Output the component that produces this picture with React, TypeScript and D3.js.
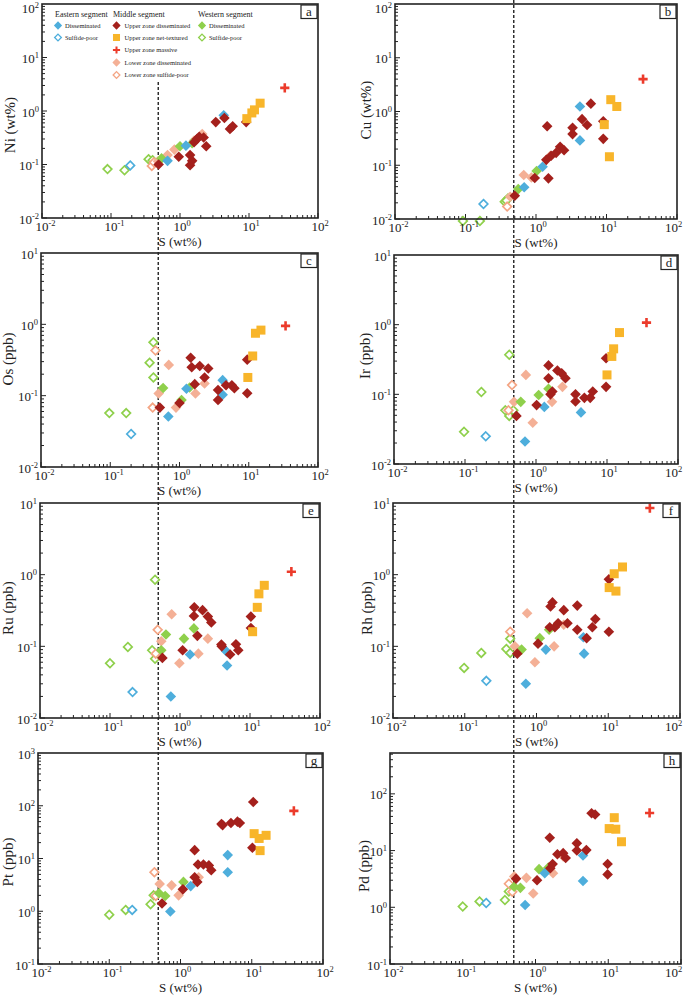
import React from 'react';
import * as d3 from 'd3';

type Pt = [string, number, number];

// Groups: ED/ES = Eastern disseminated / sulfide-poor; UD/UN/UM = Middle upper zone disseminated / net-textured / massive;
// LD/LS = Middle lower zone disseminated / sulfide-poor; WD/WS = Western disseminated / sulfide-poor
const niData: Pt[] = [
  ['WS', 0.089, 0.082], ['WS', 0.157, 0.078], ['WS', 0.35, 0.126], ['WS', 0.4, 0.12],
  ['ES', 0.19, 0.096],
  ['LS', 0.39, 0.094], ['LS', 0.42, 0.11],
  ['LD', 0.66, 0.15], ['LD', 0.83, 0.19], ['LD', 1.6, 0.28], ['LD', 2.1, 0.37], ['LD', 0.48, 0.115],
  ['WD', 0.54, 0.13], ['WD', 1.0, 0.22], ['WD', 1.5, 0.25],
  ['ED', 0.66, 0.117], ['ED', 1.22, 0.225], ['ED', 4.3, 0.83],
  ['UD', 0.49, 0.1], ['UD', 0.96, 0.14], ['UD', 1.4, 0.15], ['UD', 1.4, 0.097], ['UD', 1.5, 0.117],
  ['UD', 1.6, 0.26], ['UD', 1.76, 0.3], ['UD', 2.2, 0.32], ['UD', 2.4, 0.22], ['UD', 3.3, 0.62],
  ['UD', 4.4, 0.74], ['UD', 5.3, 0.46], ['UD', 5.8, 0.52], ['UD', 9.1, 0.62], ['UD', 1.9, 0.33],
  ['UN', 9.3, 0.72], ['UN', 11, 0.92], ['UN', 12, 1.05], ['UN', 14.5, 1.4],
  ['UM', 33, 2.7],
];

const cuData: Pt[] = [
  ['WS', 0.092, 0.0092], ['WS', 0.16, 0.0092], ['WS', 0.36, 0.021], ['WS', 0.4, 0.024], ['WS', 0.38, 0.022],
  ['ES', 0.18, 0.019],
  ['LS', 0.39, 0.017],
  ['LD', 0.43, 0.026], ['LD', 0.67, 0.066], ['LD', 0.86, 0.059], ['LD', 1.6, 0.15],
  ['WD', 0.56, 0.036], ['WD', 1.02, 0.078],
  ['ED', 0.68, 0.039], ['ED', 1.24, 0.094], ['ED', 4.2, 1.24], ['ED', 4.2, 0.29],
  ['UD', 0.5, 0.027], ['UD', 0.96, 0.058], ['UD', 1.5, 0.057], ['UD', 1.44, 0.53], ['UD', 1.4, 0.126],
  ['UD', 1.64, 0.15], ['UD', 1.93, 0.17], ['UD', 2.2, 0.22], ['UD', 2.5, 0.19], ['UD', 3.3, 0.5],
  ['UD', 3.3, 0.38], ['UD', 4.5, 0.72], ['UD', 5.3, 0.56], ['UD', 6.0, 1.4], ['UD', 9.0, 0.66], ['UD', 9.0, 0.31],
  ['UN', 9.3, 0.57], ['UN', 11.5, 1.66], ['UN', 14, 1.24], ['UN', 11, 0.144],
  ['UM', 33, 4.0],
];

const osData: Pt[] = [
  ['WS', 0.097, 0.057], ['WS', 0.17, 0.057], ['WS', 0.42, 0.56], ['WS', 0.37, 0.29], ['WS', 0.42, 0.18],
  ['ES', 0.2, 0.029],
  ['LS', 0.45, 0.43], ['LS', 0.41, 0.068],
  ['LD', 0.5, 0.107], ['LD', 0.7, 0.27], ['LD', 0.89, 0.068], ['LD', 1.7, 0.107], ['LD', 2.3, 0.148],
  ['WD', 0.58, 0.128], ['WD', 1.07, 0.087], ['WD', 1.4, 0.13],
  ['ED', 0.69, 0.051], ['ED', 1.26, 0.125], ['ED', 4.2, 0.165], ['ED', 4.2, 0.103],
  ['UD', 0.52, 0.068], ['UD', 1.0, 0.079], ['UD', 1.45, 0.34], ['UD', 1.5, 0.25], ['UD', 1.66, 0.145],
  ['UD', 1.96, 0.26], ['UD', 2.3, 0.18], ['UD', 2.6, 0.24], ['UD', 3.6, 0.12], ['UD', 3.6, 0.087],
  ['UD', 4.7, 0.14], ['UD', 5.7, 0.14], ['UD', 6.2, 0.127], ['UD', 9.5, 0.32], ['UD', 9.5, 0.108],
  ['UN', 9.7, 0.18], ['UN', 11.4, 0.36], ['UN', 12.5, 0.75], ['UN', 15, 0.83],
  ['UM', 34, 0.95],
];

const irData: Pt[] = [
  ['WS', 0.097, 0.029], ['WS', 0.17, 0.108], ['WS', 0.42, 0.37], ['WS', 0.37, 0.059], ['WS', 0.42, 0.049], ['WS', 0.48, 0.059],
  ['ES', 0.196, 0.025],
  ['LS', 0.46, 0.136], ['LS', 0.41, 0.059],
  ['LD', 0.49, 0.078], ['LD', 0.72, 0.19], ['LD', 0.9, 0.039], ['LD', 1.68, 0.078], ['LD', 2.36, 0.128],
  ['WD', 0.61, 0.078], ['WD', 1.09, 0.098], ['WD', 1.5, 0.12],
  ['ED', 0.7, 0.021], ['ED', 1.31, 0.066], ['ED', 4.3, 0.055],
  ['UD', 0.53, 0.049], ['UD', 1.02, 0.07], ['UD', 1.5, 0.17], ['UD', 1.5, 0.26], ['UD', 1.6, 0.1],
  ['UD', 1.7, 0.11], ['UD', 2.0, 0.22], ['UD', 2.3, 0.2], ['UD', 2.6, 0.17], ['UD', 3.6, 0.1],
  ['UD', 3.6, 0.079], ['UD', 4.8, 0.089], ['UD', 5.8, 0.089], ['UD', 6.3, 0.11], ['UD', 9.7, 0.33], ['UD', 9.7, 0.128],
  ['UN', 10, 0.19], ['UN', 11.7, 0.35], ['UN', 12.4, 0.45], ['UN', 15, 0.77],
  ['UM', 36, 1.07],
];

const ruData: Pt[] = [
  ['WS', 0.1, 0.058], ['WS', 0.18, 0.098], ['WS', 0.44, 0.85], ['WS', 0.4, 0.088], ['WS', 0.44, 0.067],
  ['ES', 0.21, 0.023],
  ['LS', 0.48, 0.17], ['LS', 0.45, 0.079],
  ['LD', 0.54, 0.118], ['LD', 0.76, 0.28], ['LD', 0.98, 0.058], ['LD', 1.83, 0.079], ['LD', 2.5, 0.128],
  ['WD', 0.54, 0.088], ['WD', 0.63, 0.146], ['WD', 1.14, 0.128], ['WD', 1.58, 0.178],
  ['ED', 0.74, 0.02], ['ED', 1.39, 0.077], ['ED', 4.6, 0.085], ['ED', 4.7, 0.054],
  ['UD', 0.56, 0.069], ['UD', 1.09, 0.088], ['UD', 1.58, 0.265], ['UD', 1.6, 0.35], ['UD', 1.77, 0.14],
  ['UD', 2.1, 0.32], ['UD', 2.5, 0.26], ['UD', 2.8, 0.215], ['UD', 3.9, 0.106], ['UD', 3.95, 0.1],
  ['UD', 5.2, 0.077], ['UD', 6.3, 0.107], ['UD', 6.8, 0.088], ['UD', 10.3, 0.26], ['UD', 10.3, 0.18],
  ['UN', 10.9, 0.16], ['UN', 12.7, 0.35], ['UN', 13.4, 0.54], ['UN', 16, 0.71],
  ['UM', 39, 1.1],
];

const rhData: Pt[] = [
  ['WS', 0.098, 0.05], ['WS', 0.17, 0.081], ['WS', 0.38, 0.092], ['WS', 0.43, 0.128], ['WS', 0.43, 0.081],
  ['ES', 0.2, 0.033],
  ['LS', 0.43, 0.16],
  ['LD', 0.5, 0.1], ['LD', 0.74, 0.29], ['LD', 0.95, 0.06], ['LD', 1.76, 0.1], ['LD', 2.4, 0.2],
  ['WD', 0.62, 0.09], ['WD', 1.11, 0.13], ['WD', 1.5, 0.17],
  ['ED', 0.71, 0.03], ['ED', 1.35, 0.09], ['ED', 4.5, 0.134], ['ED', 4.6, 0.079],
  ['UD', 0.54, 0.079], ['UD', 1.05, 0.109], ['UD', 1.53, 0.185], ['UD', 1.57, 0.36], ['UD', 1.67, 0.41],
  ['UD', 1.8, 0.185], ['UD', 2.0, 0.21], ['UD', 2.4, 0.32], ['UD', 2.7, 0.21], ['UD', 3.7, 0.37],
  ['UD', 3.7, 0.17], ['UD', 5.0, 0.13], ['UD', 6.0, 0.185], ['UD', 6.6, 0.24], ['UD', 10.2, 0.86], ['UD', 10.2, 0.16],
  ['UN', 10.3, 0.66], ['UN', 12.1, 1.03], ['UN', 12.8, 0.59], ['UN', 15.8, 1.28],
  ['UM', 38, 8.5],
];

const ptData: Pt[] = [
  ['WS', 0.1, 0.86], ['WS', 0.17, 1.06], ['WS', 0.38, 1.36], ['WS', 0.42, 2.0],
  ['ES', 0.21, 1.06],
  ['LS', 0.43, 5.5], ['LS', 0.45, 1.95],
  ['LD', 0.51, 3.3], ['LD', 0.75, 3.1], ['LD', 0.94, 2.0], ['LD', 1.8, 4.4],
  ['WD', 0.5, 2.2], ['WD', 0.61, 1.95], ['WD', 1.1, 3.6],
  ['ED', 0.72, 0.99], ['ED', 1.39, 3.0], ['ED', 4.6, 11.6], ['ED', 4.6, 5.5],
  ['UD', 0.55, 1.4], ['UD', 1.08, 2.6], ['UD', 1.58, 4.4], ['UD', 1.58, 14.4], ['UD', 1.72, 3.6],
  ['UD', 1.76, 7.7], ['UD', 2.1, 7.7], ['UD', 2.5, 7.4], ['UD', 2.7, 6.0], ['UD', 3.76, 45],
  ['UD', 3.9, 43], ['UD', 5.1, 47], ['UD', 6.3, 50], ['UD', 6.8, 47], ['UD', 10.5, 118], ['UD', 10.2, 16],
  ['UN', 10.8, 29.6], ['UN', 12.7, 24], ['UN', 15.9, 27.5], ['UN', 13.1, 14.1],
  ['UM', 39, 80],
];

const pdData: Pt[] = [
  ['WS', 0.1, 1.03], ['WS', 0.17, 1.27], ['WS', 0.38, 1.34], ['WS', 0.43, 1.9],
  ['ES', 0.21, 1.19],
  ['LS', 0.43, 2.6], ['LS', 0.48, 1.87],
  ['LD', 0.51, 3.5], ['LD', 0.75, 3.3], ['LD', 0.93, 1.75], ['LD', 1.74, 4.0], ['LD', 2.4, 7.9],
  ['WD', 0.51, 2.3], ['WD', 0.62, 2.2], ['WD', 1.12, 4.7], ['WD', 1.5, 5.0],
  ['ED', 0.72, 1.1], ['ED', 1.34, 4.0], ['ED', 4.5, 8.2], ['ED', 4.5, 2.9],
  ['UD', 0.54, 3.2], ['UD', 1.05, 3.0], ['UD', 1.57, 16.8], ['UD', 1.6, 4.9], ['UD', 1.72, 5.8],
  ['UD', 2.0, 8.6], ['UD', 2.4, 9.0], ['UD', 2.6, 7.4], ['UD', 3.7, 13.4], ['UD', 3.7, 10],
  ['UD', 5.0, 10.2], ['UD', 5.9, 45.6], ['UD', 6.6, 43.3], ['UD', 9.8, 5.8], ['UD', 9.8, 3.8],
  ['UN', 10.3, 24.4], ['UN', 12.1, 38], ['UN', 12.7, 23.8], ['UN', 15.2, 14.3],
  ['UM', 37, 46],
];

const xTickExps = [-2, -1, 0, 1, 2];
const legendHeaders = ['Eastern segment', 'Middle segment', 'Western segment'];
const legendEastern: [string, string][] = [['ED', 'Disseminated'], ['ES', 'Sulfide-poor']];
const legendMiddle: [string, string][] = [
  ['UD', 'Upper zone disseminated'], ['UN', 'Upper zone net-textured'], ['UM', 'Upper zone massive'],
  ['LD', 'Lower zone disseminated'], ['LS', 'Lower zone sulfide-poor'],
];
const legendWestern: [string, string][] = [['WD', 'Disseminated'], ['WS', 'Sulfide-poor']];

const GROUP_ORDER = ['WS', 'ES', 'LS', 'LD', 'WD', 'ED', 'UD', 'UN', 'UM'];

type Shape = 'diamond' | 'square' | 'cross';
const STYLE: Record<string, { shape: Shape; filled: boolean; color: string }> = {
  ED: { shape: 'diamond', filled: true, color: '#4eaedc' },
  ES: { shape: 'diamond', filled: false, color: '#4eaedc' },
  UD: { shape: 'diamond', filled: true, color: '#a4201c' },
  UN: { shape: 'square', filled: true, color: '#f8b52a' },
  UM: { shape: 'cross', filled: true, color: '#ec3b2b' },
  LD: { shape: 'diamond', filled: true, color: '#f4b096' },
  LS: { shape: 'diamond', filled: false, color: '#f4a584' },
  WD: { shape: 'diamond', filled: true, color: '#8fd04c' },
  WS: { shape: 'diamond', filled: false, color: '#8fd04c' },
};

const FONT = '"Liberation Serif", "Times New Roman", Times, serif';

interface PanelCfg {
  letter: string;
  label: string;
  data: Pt[];
  yDomain: [number, number];
  yExps: number[];
  x0: number; x1: number; y0: number; y1: number;
  titleX: number; titleY: number;
}

const PANELS: PanelCfg[] = [
  { letter: 'a', label: 'Ni (wt%)', data: niData, yDomain: [0.01, 100], yExps: [-2, -1, 0, 1, 2], x0: 42, x1: 318, y0: 4, y1: 218, titleX: 10, titleY: 125 },
  { letter: 'b', label: 'Cu (wt%)', data: cuData, yDomain: [0.01, 100], yExps: [-2, -1, 0, 1, 2], x0: 395, x1: 677, y0: 4, y1: 219, titleX: 366, titleY: 110 },
  { letter: 'c', label: 'Os (ppb)', data: osData, yDomain: [0.01, 10], yExps: [-2, -1, 0, 1], x0: 41, x1: 318, y0: 253, y1: 467, titleX: 8, titleY: 359 },
  { letter: 'd', label: 'Ir (ppb)', data: irData, yDomain: [0.01, 10], yExps: [-2, -1, 0, 1], x0: 394, x1: 678, y0: 255, y1: 464, titleX: 365, titleY: 356 },
  { letter: 'e', label: 'Ru (ppb)', data: ruData, yDomain: [0.01, 10], yExps: [-2, -1, 0, 1], x0: 40, x1: 320, y0: 503, y1: 718, titleX: 8, titleY: 608 },
  { letter: 'f', label: 'Rh (ppb)', data: rhData, yDomain: [0.01, 10], yExps: [-2, -1, 0, 1], x0: 393, x1: 680, y0: 503, y1: 718, titleX: 367, titleY: 608 },
  { letter: 'g', label: 'Pt (ppb)', data: ptData, yDomain: [0.1, 1000], yExps: [-1, 0, 1, 2, 3], x0: 38, x1: 323, y0: 753, y1: 964, titleX: 8, titleY: 862 },
  { letter: 'h', label: 'Pd (ppb)', data: pdData, yDomain: [0.1, 525], yExps: [-1, 0, 1, 2], x0: 390, x1: 681, y0: 753, y1: 964, titleX: 364, titleY: 866 },
];

function Marker({ g, x, y, k = 1 }: { g: string; x: number; y: number; k?: number }) {
  const s = STYLE[g];
  if (s.shape === 'diamond') {
    if (s.filled) {
      const r = 5.3 * k;
      return <path d={`M${x},${y - r}L${x + r},${y}L${x},${y + r}L${x - r},${y}Z`} fill={s.color} />;
    }
    const r = 4.3 * k;
    return <path d={`M${x},${y - r}L${x + r},${y}L${x},${y + r}L${x - r},${y}Z`} fill="#fff" stroke={s.color} strokeWidth={1.7 * k} />;
  }
  if (s.shape === 'square') {
    const h = 4.5 * k;
    return <rect x={x - h} y={y - h} width={2 * h} height={2 * h} fill={s.color} />;
  }
  const a = 4.6 * k;
  return <path d={`M${x - a},${y}H${x + a}M${x},${y - a}V${y + a}`} stroke={s.color} strokeWidth={2.6 * k} fill="none" />;
}

function Exp10({ x, y, e, anchor }: { x: number; y: number; e: number; anchor: 'start' | 'end' }) {
  return (
    <text x={x} y={y} fontSize={13} textAnchor={anchor} fontFamily={FONT} fill="#222">
      10<tspan dy={-5} fontSize={8.5}>{String(e)}</tspan>
    </text>
  );
}

function Panel({ p }: { p: PanelCfg }) {
  const xs = d3.scaleLog().domain([0.01, 100]).range([p.x0, p.x1]);
  const ys = d3.scaleLog().domain(p.yDomain).range([p.y1, p.y0]);
  const xMinor: number[] = [];
  for (let e = -2; e < 2; e++) for (let m = 1; m < 10; m++) xMinor.push(m * Math.pow(10, e));
  xMinor.push(100);
  const yMinor: number[] = [];
  const ye0 = Math.floor(Math.log10(p.yDomain[0]));
  const ye1 = Math.ceil(Math.log10(p.yDomain[1]));
  for (let e = ye0; e < ye1; e++) for (let m = 1; m < 10; m++) {
    const v = m * Math.pow(10, e);
    if (v >= p.yDomain[0] * 0.999 && v <= p.yDomain[1] * 1.001) yMinor.push(v);
  }
  const sorted = [...p.data].sort((a, b) => GROUP_ORDER.indexOf(a[0]) - GROUP_ORDER.indexOf(b[0]));
  const cx = (p.x0 + p.x1) / 2;
  return (
    <g>
      {xMinor.map((v, i) => {
        const major = Math.abs(Math.log10(v) - Math.round(Math.log10(v))) < 1e-6;
        const x = xs(v);
        return <line key={'xt' + i} x1={x} x2={x} y1={p.y1} y2={p.y1 - (major ? 5 : 3)} stroke="#222" strokeWidth={1} />;
      })}
      {yMinor.map((v, i) => {
        const major = Math.abs(Math.log10(v) - Math.round(Math.log10(v))) < 1e-6;
        const y = ys(v);
        return <line key={'yt' + i} x1={p.x0} x2={p.x0 + (major ? 5 : 3)} y1={y} y2={y} stroke="#222" strokeWidth={1} />;
      })}
      {sorted.map((d, i) => (
        <Marker key={'m' + i} g={d[0]} x={xs(d[1])} y={ys(d[2])} />
      ))}
      <rect x={p.x0} y={p.y0} width={p.x1 - p.x0} height={p.y1 - p.y0} fill="none" stroke="#222" strokeWidth={1.6} />
      {xTickExps.map((e) => (
        <Exp10 key={'xl' + e} x={Math.min(xs(Math.pow(10, e)) - 6.5, 665)} y={p.y1 + 13} e={e} anchor="start" />
      ))}
      {p.yExps.map((e) => (
        <Exp10 key={'yl' + e} x={p.x0 - 3} y={Math.max(ys(Math.pow(10, e)) + 5.5, 13)} e={e} anchor="end" />
      ))}
      <text x={cx} y={Math.min(p.y1 + 28, 992)} textAnchor="middle" fontSize={13} fontFamily={FONT} fill="#222">S (wt%)</text>
      <text transform={`translate(${p.titleX},${p.titleY}) rotate(-90)`} dy="0.35em" textAnchor="middle" fontSize={15} fontFamily={FONT} fill="#222">{p.label}</text>
      <rect x={p.x1 - 17} y={p.y0 + 1} width={16} height={13.5} fill="#fff" stroke="#222" strokeWidth={1.2} />
      <text x={p.x1 - 9} y={p.y0 + 12} textAnchor="middle" fontSize={13} fontFamily={FONT} fill="#222">{p.letter}</text>
    </g>
  );
}

function Legend() {
  const rows = [25.5, 37.5, 50, 62.5, 75];
  const cols: { hx: number; mx: number; tx: number; items: [string, string][] }[] = [
    { hx: 55, mx: 58, tx: 65, items: legendEastern },
    { hx: 113, mx: 116.5, tx: 124.5, items: legendMiddle },
    { hx: 198, mx: 202, tx: 209, items: legendWestern },
  ];
  return (
    <g>
      {cols.map((c, ci) => (
        <g key={ci}>
          <text x={c.hx} y={16.5} fontSize={8} fontFamily={FONT} fill="#222">{legendHeaders[ci]}</text>
          {c.items.map((it, i) => (
            <g key={i}>
              <Marker g={it[0]} x={c.mx} y={rows[i]} k={0.78} />
              <text x={c.tx} y={rows[i] + 2.3} fontSize={6.5} fontFamily={FONT} fill="#222">{it[1]}</text>
            </g>
          ))}
        </g>
      ))}
    </g>
  );
}

export default function App() {
  const leftX = d3.scaleLog().domain([0.01, 100]).range([PANELS[0].x0, PANELS[0].x1])(0.5) - 1;
  const rightX = d3.scaleLog().domain([0.01, 100]).range([PANELS[1].x0, PANELS[1].x1])(0.5) - 1;
  return (
    <svg width={685} height={996} style={{ position: 'absolute', left: 0, top: 0, background: '#fff' }}>
      <rect x={0} y={0} width={685} height={996} fill="#fff" />
      <line x1={leftX} x2={leftX} y1={82} y2={964} stroke="#111" strokeWidth={1.3} strokeDasharray="3,2" />
      <line x1={rightX} x2={rightX} y1={0} y2={964} stroke="#111" strokeWidth={1.3} strokeDasharray="3,2" />
      {PANELS.map((p) => (
        <Panel key={p.letter} p={p} />
      ))}
      <Legend />
    </svg>
  );
}
